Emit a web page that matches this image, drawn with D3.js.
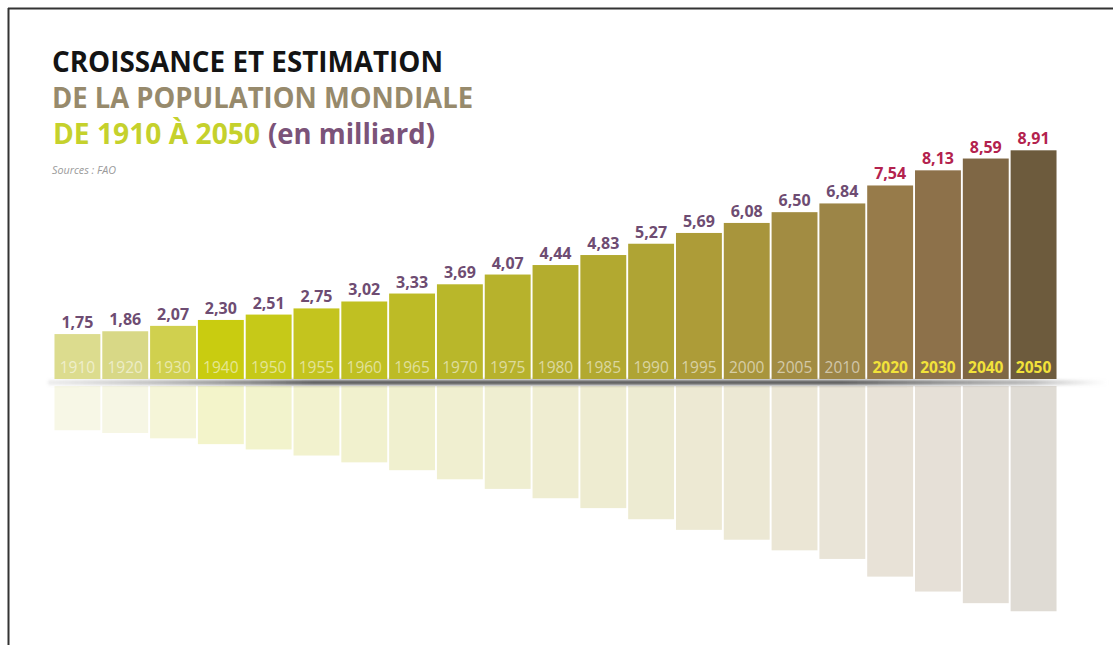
<!DOCTYPE html>
<html>
<head>
<meta charset="utf-8">
<script src="https://cdn.jsdelivr.net/npm/d3@7/dist/d3.min.js"></script>
<style>
  html, body { margin: 0; padding: 0; background: #fff; }
  svg { display: block; font-family: 'Open Sans', sans-serif; }
</style>
</head>
<body>
<script>
const years = ['1910', '1920', '1930', '1940', '1950', '1955', '1960', '1965', '1970', '1975',
  '1980', '1985', '1990', '1995', '2000', '2005', '2010', '2020', '2030', '2040', '2050'];
const population = [1.75, 1.86, 2.07, 2.30, 2.51, 2.75, 3.02, 3.33, 3.69, 4.07,
  4.44, 4.83, 5.27, 5.69, 6.08, 6.50, 6.84, 7.54, 8.13, 8.59, 8.91];
const valueLabels = ['1,75', '1,86', '2,07', '2,30', '2,51', '2,75', '3,02', '3,33', '3,69', '4,07',
  '4,44', '4,83', '5,27', '5,69', '6,08', '6,50', '6,84', '7,54', '8,13', '8,59', '8,91'];
const estimated = [false, false, false, false, false, false, false, false, false, false,
  false, false, false, false, false, false, false, true, true, true, true];
const barColors = ['#dcdc8e', '#d8d886', '#d0d04e', '#c9cc10', '#c6c918', '#c4c41e', '#c0c022', '#bdbb26',
  '#b9b72a', '#b7b22c', '#b4ad2e', '#b2a930', '#afa434', '#ad9c38', '#a8953c', '#a28c42',
  '#9c8547', '#977b4a', '#8d714a', '#7f6745', '#6d5b3d'];

const data = years.map((y, i) => ({
  year: y, value: population[i], label: valueLabels[i], est: estimated[i], color: barColors[i]
}));

const width = 1113, height = 645;
const baseY = 379;
const reflectTop = 386;

const svg = d3.select('body').append('svg')
  .attr('width', width)
  .attr('height', height);

const defs = svg.append('defs');

const shadowGrad = defs.append('linearGradient')
  .attr('id', 'shadowGrad');
shadowGrad.append('stop').attr('offset', '0%').attr('stop-color', '#888').attr('stop-opacity', 0.15);
shadowGrad.append('stop').attr('offset', '25%').attr('stop-color', '#3c3c3c').attr('stop-opacity', 0.85);
shadowGrad.append('stop').attr('offset', '75%').attr('stop-color', '#3c3c3c').attr('stop-opacity', 0.85);
shadowGrad.append('stop').attr('offset', '93%').attr('stop-color', '#666').attr('stop-opacity', 0.45);
shadowGrad.append('stop').attr('offset', '100%').attr('stop-color', '#aaa').attr('stop-opacity', 0);

defs.append('filter')
  .attr('id', 'blur')
  .attr('x', '-5%').attr('y', '-100%').attr('width', '110%').attr('height', '300%')
  .append('feGaussianBlur')
  .attr('stdDeviation', '1.6');

// frame (top and left edges only)
svg.append('line')
  .attr('x1', 8).attr('x2', width).attr('y1', 8.5).attr('y2', 8.5)
  .attr('stroke', '#333').attr('stroke-width', 2);
svg.append('line')
  .attr('x1', 8.5).attr('x2', 8.5).attr('y1', 8).attr('y2', height)
  .attr('stroke', '#333').attr('stroke-width', 2);

// titles
const title = svg.append('g').attr('font-weight', 700);
title.append('text')
  .attr('x', 52).attr('y', 72)
  .attr('font-size', 29)
  .attr('fill', '#141414')
  .attr('textLength', 391).attr('lengthAdjust', 'spacingAndGlyphs')
  .text('CROISSANCE ET ESTIMATION');
title.append('text')
  .attr('x', 52).attr('y', 108)
  .attr('font-size', 29)
  .attr('fill', '#978a6c')
  .attr('textLength', 421).attr('lengthAdjust', 'spacingAndGlyphs')
  .text('DE LA POPULATION MONDIALE');
title.append('text')
  .attr('x', 53).attr('y', 144)
  .attr('font-size', 29)
  .attr('fill', '#c5d12c')
  .attr('textLength', 207).attr('lengthAdjust', 'spacingAndGlyphs')
  .text('DE 1910 À 2050');
title.append('text')
  .attr('x', 268).attr('y', 144)
  .attr('font-size', 29)
  .attr('fill', '#7b5379')
  .attr('textLength', 167).attr('lengthAdjust', 'spacingAndGlyphs')
  .text('(en milliard)');
svg.append('text')
  .attr('x', 52).attr('y', 174)
  .attr('font-size', 10)
  .attr('font-style', 'italic')
  .attr('fill', '#9a9a9a')
  .attr('textLength', 64).attr('lengthAdjust', 'spacingAndGlyphs')
  .text('Sources : FAO');

// scales
const x = d3.scaleBand()
  .domain(years)
  .range([54, 1057])
  .paddingInner(0.04)
  .paddingOuter(0.01);

const y = d3.scaleLinear()
  .domain([0, 9])
  .range([baseY, 148]);

// reflection
const reflection = svg.append('g').attr('class', 'reflection');
reflection.selectAll('rect')
  .data(data)
  .enter().append('rect')
  .attr('x', d => x(d.year))
  .attr('y', reflectTop)
  .attr('width', x.bandwidth())
  .attr('height', d => (baseY - y(d.value)) * 0.985)
  .attr('fill', d => d3.interpolateRgb(d.color, '#fff')(0.78));

// shadow under the baseline
svg.append('rect')
  .attr('x', 48).attr('y', baseY + 1)
  .attr('width', 1060).attr('height', 5)
  .attr('fill', 'url(#shadowGrad)')
  .attr('filter', 'url(#blur)');

// bars
const bars = svg.append('g').attr('class', 'bars');
bars.selectAll('rect')
  .data(data)
  .enter().append('rect')
  .attr('x', d => x(d.year))
  .attr('y', d => y(d.value))
  .attr('width', x.bandwidth())
  .attr('height', d => baseY - y(d.value))
  .attr('fill', d => d.color);

// year labels inside bars
bars.selectAll('text.year')
  .data(data)
  .enter().append('text')
  .attr('class', 'year')
  .attr('x', d => x(d.year) + x.bandwidth() / 2)
  .attr('y', baseY - 6)
  .attr('text-anchor', 'middle')
  .attr('font-size', 15.5)
  .attr('font-weight', d => d.est ? 700 : 400)
  .attr('fill', d => d.est ? '#f2e23a' : '#ffffff')
  .attr('fill-opacity', d => d.est ? 1 : 0.55)
  .text(d => d.year);

// value labels above bars
bars.selectAll('text.value')
  .data(data)
  .enter().append('text')
  .attr('class', 'value')
  .attr('x', d => x(d.year) + x.bandwidth() / 2)
  .attr('y', d => y(d.value) - 6)
  .attr('text-anchor', 'middle')
  .attr('font-size', 16)
  .attr('font-weight', 700)
  .attr('fill', d => d.est ? '#b3224e' : '#6e4c72')
  .text(d => d.label);
</script>
</body>
</html>
